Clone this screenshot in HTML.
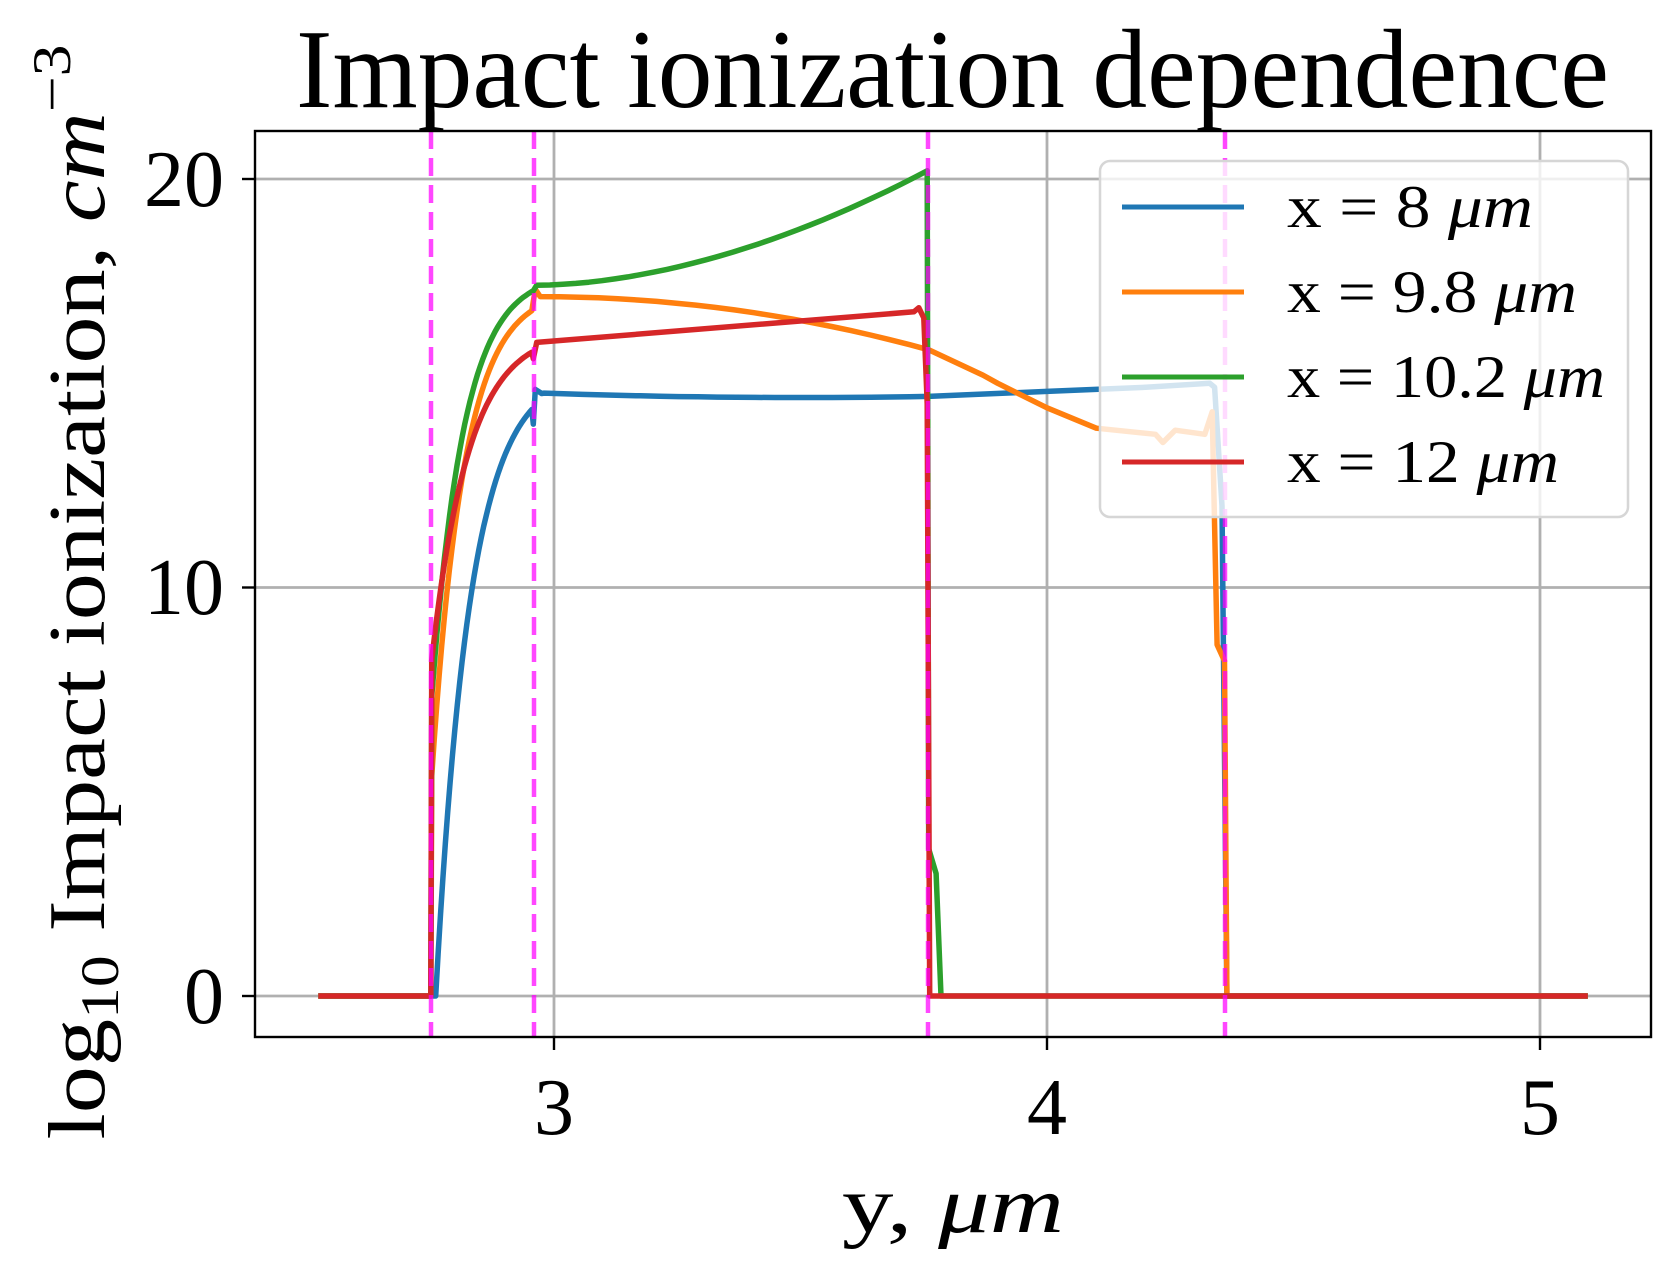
<!DOCTYPE html>
<html><head><meta charset="utf-8"><style>
html,body{margin:0;padding:0;background:#fff;}
svg{display:block;}
text{font-family:"Liberation Serif","DejaVu Serif",serif;fill:#000;}
</style></head><body>
<svg id="s" width="1679" height="1275" viewBox="0 0 1679 1275" xmlns="http://www.w3.org/2000/svg">
<rect width="1679" height="1275" fill="#fff"/>
<g stroke="#b0b0b0" stroke-width="2.8">
<line x1="554" y1="131" x2="554" y2="1037"/>
<line x1="1047" y1="131" x2="1047" y2="1037"/>
<line x1="1540" y1="131" x2="1540" y2="1037"/>
<line x1="255" y1="996" x2="1651" y2="996"/>
<line x1="255" y1="587.5" x2="1651" y2="587.5"/>
<line x1="255" y1="179" x2="1651" y2="179"/>
</g>
<g id="series" fill="none" stroke-width="5.5" stroke-linejoin="round" stroke-linecap="butt"></g>
<g stroke="rgba(255,0,255,0.72)" stroke-width="4.5" stroke-dasharray="18,9">
<line x1="431" y1="131" x2="431" y2="1037"/>
<line x1="534" y1="131" x2="534" y2="1037"/>
<line x1="928" y1="131" x2="928" y2="1037"/>
<line x1="1225" y1="131" x2="1225" y2="1037"/>
</g>
<rect x="255" y="131" width="1396" height="906" fill="none" stroke="#000" stroke-width="2.4"/>
<g stroke="#000" stroke-width="2.4">
<line x1="554" y1="1037" x2="554" y2="1050"/>
<line x1="1047" y1="1037" x2="1047" y2="1050"/>
<line x1="1540" y1="1037" x2="1540" y2="1050"/>
<line x1="242" y1="996" x2="255" y2="996"/>
<line x1="242" y1="587.5" x2="255" y2="587.5"/>
<line x1="242" y1="179" x2="255" y2="179"/>
</g>
<g font-size="80">
<text x="554" y="1134" text-anchor="middle">3</text>
<text x="1047" y="1134" text-anchor="middle">4</text>
<text x="1540" y="1134" text-anchor="middle">5</text>
<text x="224" y="1023" text-anchor="end">0</text>
<text x="224" y="614" text-anchor="end">10</text>
<text x="224" y="206" text-anchor="end">20</text>
</g>
<text x="296" y="107" font-size="112" textLength="1313" lengthAdjust="spacingAndGlyphs">Impact ionization dependence</text>
<text x="953" y="1232" font-size="80" text-anchor="middle" textLength="222" lengthAdjust="spacingAndGlyphs">y, <tspan font-style="italic">μm</tspan></text>
<text transform="translate(104,592) rotate(-90)" font-size="80" text-anchor="middle" textLength="1095" lengthAdjust="spacingAndGlyphs">log<tspan font-size="54" dy="14">10</tspan><tspan dy="-14"> Impact ionization, </tspan><tspan font-style="italic">cm</tspan><tspan font-size="54" dy="-34">−3</tspan></text>
<rect x="1100" y="161" width="528" height="356" rx="10" fill="rgba(255,255,255,0.8)" stroke="#d6d6d6" stroke-width="2.5"/>
<g stroke-width="5">
<line x1="1122" y1="207" x2="1244" y2="207" stroke="#1f77b4"/>
<line x1="1122" y1="292" x2="1244" y2="292" stroke="#ff7f0e"/>
<line x1="1122" y1="377" x2="1244" y2="377" stroke="#2ca02c"/>
<line x1="1122" y1="462" x2="1244" y2="462" stroke="#d62728"/>
</g>
<g font-size="60">
<text x="1287" y="227" textLength="246" lengthAdjust="spacingAndGlyphs">x = 8 <tspan font-style="italic">μm</tspan></text>
<text x="1287" y="312" textLength="290" lengthAdjust="spacingAndGlyphs">x = 9.8 <tspan font-style="italic">μm</tspan></text>
<text x="1287" y="397" textLength="318" lengthAdjust="spacingAndGlyphs">x = 10.2 <tspan font-style="italic">μm</tspan></text>
<text x="1287" y="482" textLength="272" lengthAdjust="spacingAndGlyphs">x = 12 <tspan font-style="italic">μm</tspan></text>
</g>
</svg>
<script>
function X(d){return 554+(d-3)*493;}
function Y(v){return 996-v*40.85;}
function rise(x0,x1,f,n){var p=[];for(var i=0;i<=n;i++){var x=x0+(x1-x0)*i/n;p.push([x,f(x)]);}return p;}
function path(pts){return pts.map(function(p,i){return (i?'L':'M')+X(p[0]).toFixed(1)+','+Y(p[1]).toFixed(1);}).join(' ');}
var S=[],E=5.097;
var b=[[2.522,0],[2.760,0]];
b=b.concat(rise(2.760,2.955,function(x){return 15.3*(1-Math.exp(-(x-2.760)/0.07));},40));
b=b.concat([[2.958,14.0],[2.962,14.85],[2.975,14.75]]);
b=b.concat(rise(2.98,3.76,function(x){return 14.65+0.1*Math.pow((x-3.5)/0.5,2);},20));
b=b.concat([[4.0,14.8],[4.2,14.9],[4.33,15.0],[4.34,14.9],[4.355,12],[4.365,0],[E,0]]);
S.push(['#1f77b4',b]);
var o=[[2.522,0],[2.750,0],[2.752,5]];
o=o.concat(rise(2.752,2.955,function(x){return 5+12.3*(1-Math.exp(-(x-2.75)/0.065));},40));
o=o.concat([[2.962,17.3],[2.972,17.12]]);
o=o.concat(rise(2.972,3.76,function(x){return 17.12-1.3*Math.pow((x-2.972)/0.788,2);},20));
o=o.concat([[3.87,15.2],[3.9,15.0],[4.0,14.4],[4.1,13.9],[4.22,13.75],[4.235,13.55],[4.26,13.85],[4.32,13.75],[4.335,14.3],[4.345,8.6],[4.36,8.2],[4.365,0],[E,0]]);
S.push(['#ff7f0e',o]);
var g=[[2.522,0],[2.750,0],[2.752,7]];
g=g.concat(rise(2.752,2.958,function(x){return 7+10.7*(1-Math.exp(-(x-2.75)/0.065));},40));
g=g.concat(rise(2.965,3.757,function(x){return 17.4+2.8*Math.pow((x-2.965)/0.792,1.8);},30));
g=g.concat([[3.760,3.6],[3.775,3.0],[3.785,0],[E,0]]);
S.push(['#2ca02c',g]);
var r=[[2.522,0],[2.750,0],[2.752,8]];
r=r.concat(rise(2.752,2.955,function(x){return 8+8.3*(1-Math.exp(-(x-2.75)/0.075));},40));
r=r.concat([[2.958,15.6],[2.965,16.0],[3.73,16.75],[3.74,16.85],[3.75,16.6],[3.757,14.5],[3.762,0],[E,0]]);
S.push(['#d62728',r]);
var g0=document.getElementById('series'),ns='http://www.w3.org/2000/svg';
S.forEach(function(s){var e=document.createElementNS(ns,'path');e.setAttribute('d',path(s[1]));e.setAttribute('stroke',s[0]);g0.appendChild(e);});
</script>
</body></html>
